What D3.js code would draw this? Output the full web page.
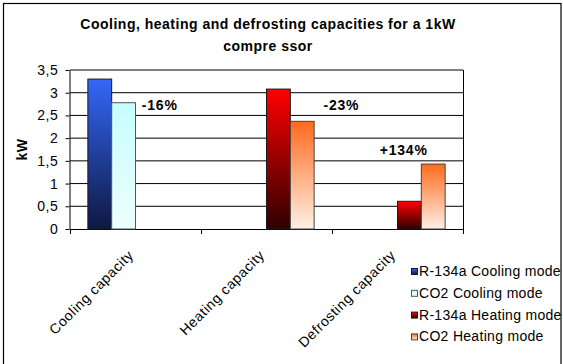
<!DOCTYPE html>
<html>
<head>
<meta charset="utf-8">
<script src="https://cdn.jsdelivr.net/npm/d3@7"></script>
<style>
  html, body { margin: 0; padding: 0; background: #fff; }
  svg { display: block; }
  svg text { font-family: "Liberation Sans", Arial, sans-serif; fill: #000; }
</style>
</head>
<body>
<svg id="chart" width="563" height="364"></svg>
<script>
// ---- data ----
const categories = ["Cooling capacity", "Heating capacity", "Defrosting capacity"];
const seriesNames = ["R-134a Cooling mode", "CO2 Cooling mode", "R-134a Heating mode", "CO2 Heating mode"];
const r134aCooling = [3.3, null, null];
const co2Cooling   = [2.78, null, null];
const r134aHeating = [null, 3.08, 0.61];
const co2Heating   = [null, 2.37, 1.43];
const yTicks = [0, 0.5, 1, 1.5, 2, 2.5, 3, 3.5];
const yTickLabels = ["0", "0,5", "1", "1,5", "2", "2,5", "3", "3,5"];
const changeLabels = ["-16%", "-23%", "+134%"];
const changeLevels = [2.62, 2.62, 1.62];
const titleLines = ["Cooling, heating and defrosting capacities for a 1kW", "compre ssor"];
const yAxisTitle = "kW";

const FONT = "'Liberation Sans', Arial, sans-serif";
const seriesValues = [r134aCooling, co2Cooling, r134aHeating, co2Heating];
const gradients = [
  ["#3467f8", "#0e1840"],
  ["#c6fdfd", "#eefefe"],
  ["#ff0000", "#2e0000"],
  ["#ff6a1c", "#fff0e6"]
];
const strokes = ["#1a1a1a", "#555", "#1a1a1a", "#444"];

const svg = d3.select("#chart");

// outer border
svg.append("rect")
  .attr("x", 3.5).attr("y", 3.5)
  .attr("width", 557.5).attr("height", 380)
  .attr("fill", "#fff").attr("stroke", "#000").attr("stroke-width", 1.2);

// gradients
const defs = svg.append("defs");
gradients.forEach((g, i) => {
  const lg = defs.append("linearGradient").attr("id", "g" + i)
    .attr("x1", 0).attr("y1", 0).attr("x2", 0).attr("y2", 1);
  lg.append("stop").attr("offset", "0%").attr("stop-color", g[0]);
  lg.append("stop").attr("offset", "100%").attr("stop-color", g[1]);
});

const plot = { left: 70, right: 463, top: 70, bottom: 229 };

const x0 = d3.scaleBand().domain(categories).range([plot.left, plot.right]).padding(0);
const x1 = d3.scaleBand().domain(seriesNames).range([0, x0.bandwidth()])
  .paddingInner(0).paddingOuter(0.75);
const y = d3.scaleLinear().domain([0, 3.5]).range([plot.bottom, plot.top]);

// gridlines
svg.append("g").selectAll("line").data(yTicks.filter(d => d > 0)).join("line")
  .attr("x1", plot.left).attr("x2", plot.right)
  .attr("y1", d => y(d)).attr("y2", d => y(d))
  .attr("stroke", "#000").attr("stroke-width", 1);

// right border of plot area
svg.append("line")
  .attr("x1", plot.right + 0.5).attr("x2", plot.right + 0.5)
  .attr("y1", plot.top).attr("y2", plot.bottom + 4)
  .attr("stroke", "#000");

// y axis
const yAxis = d3.axisLeft(y).tickValues(yTicks)
  .tickFormat((d, i) => yTickLabels[i]).tickSizeInner(4).tickSizeOuter(0).tickPadding(7);
const gy = svg.append("g").attr("transform", `translate(${plot.left - 0.5},0)`).call(yAxis);
gy.select(".domain").attr("stroke", "#000");
gy.selectAll(".tick line").attr("stroke", "#000");
gy.selectAll(".tick text")
  .style("font-family", FONT)
  .style("font-size", "14px").style("letter-spacing", "0.6px").attr("fill", "#000");

// x axis (ticks at category boundaries)
const boundaries = categories.map(c => x0(c)).concat([plot.right]);
svg.append("line")
  .attr("x1", plot.left).attr("x2", plot.right + 1)
  .attr("y1", plot.bottom + 0.5).attr("y2", plot.bottom + 0.5)
  .attr("stroke", "#000");
svg.append("g").selectAll("line").data(boundaries).join("line")
  .attr("x1", d => Math.round(d) + 0.5).attr("x2", d => Math.round(d) + 0.5)
  .attr("y1", plot.bottom).attr("y2", plot.bottom + 5)
  .attr("stroke", "#000");

// bars
const barData = [];
seriesValues.forEach((vals, si) => {
  vals.forEach((v, ci) => {
    if (v != null) barData.push({ s: si, c: ci, v: v });
  });
});
svg.append("g").selectAll("rect").data(barData).join("rect")
  .attr("x", d => x0(categories[d.c]) + x1(seriesNames[d.s]))
  .attr("y", d => y(d.v))
  .attr("width", x1.bandwidth())
  .attr("height", d => y(0) - y(d.v))
  .attr("fill", d => `url(#g${d.s})`)
  .attr("stroke", d => strokes[d.s]).attr("stroke-width", 1);

// x labels
svg.append("g").selectAll("text").data(categories).join("text")
  .attr("transform", d => `translate(${x0(d) + x0.bandwidth() / 2 - 1},256) rotate(-45)`)
  .attr("text-anchor", "end")
  .style("font-family", FONT)
  .style("font-size", "14px").style("letter-spacing", "0.6px")
  .text(d => d);

// change annotations
const annOffsets = [89.7, 140.4, 71.7];
svg.append("g").selectAll("text").data(changeLabels).join("text")
  .attr("x", (d, i) => x0(categories[i]) + annOffsets[i])
  .attr("y", (d, i) => y(changeLevels[i]))
  .attr("text-anchor", "middle")
  .style("font-family", FONT)
  .style("font-size", "14px").style("font-weight", "bold").style("letter-spacing", "0.8px")
  .text(d => d);

// title
svg.append("g").selectAll("text").data(titleLines).join("text")
  .attr("x", 268).attr("y", (d, i) => 28.5 + i * 22)
  .attr("text-anchor", "middle")
  .style("font-family", FONT)
  .style("font-size", "14px").style("font-weight", "bold").style("letter-spacing", "0.5px")
  .text(d => d);

// y axis title
svg.append("text")
  .attr("transform", `translate(26.5,${(plot.top + plot.bottom) / 2}) rotate(-90)`)
  .attr("text-anchor", "middle")
  .style("font-family", FONT)
  .style("font-size", "14px").style("font-weight", "bold").style("letter-spacing", "0.5px")
  .text(yAxisTitle);

// legend
const legend = svg.append("g").selectAll("g").data(seriesNames).join("g")
  .attr("transform", (d, i) => `translate(411,${276 + i * 21.8})`);
legend.append("rect")
  .attr("x", 0.5).attr("y", -7.5).attr("width", 6).attr("height", 6)
  .attr("fill", (d, i) => `url(#g${i})`)
  .attr("stroke", (d, i) => strokes[i]).attr("stroke-width", 1);
legend.append("text")
  .attr("x", 8).attr("y", 0)
  .style("font-family", FONT)
  .style("font-size", "14px").style("letter-spacing", "0.3px")
  .text(d => d);
</script>
</body>
</html>
